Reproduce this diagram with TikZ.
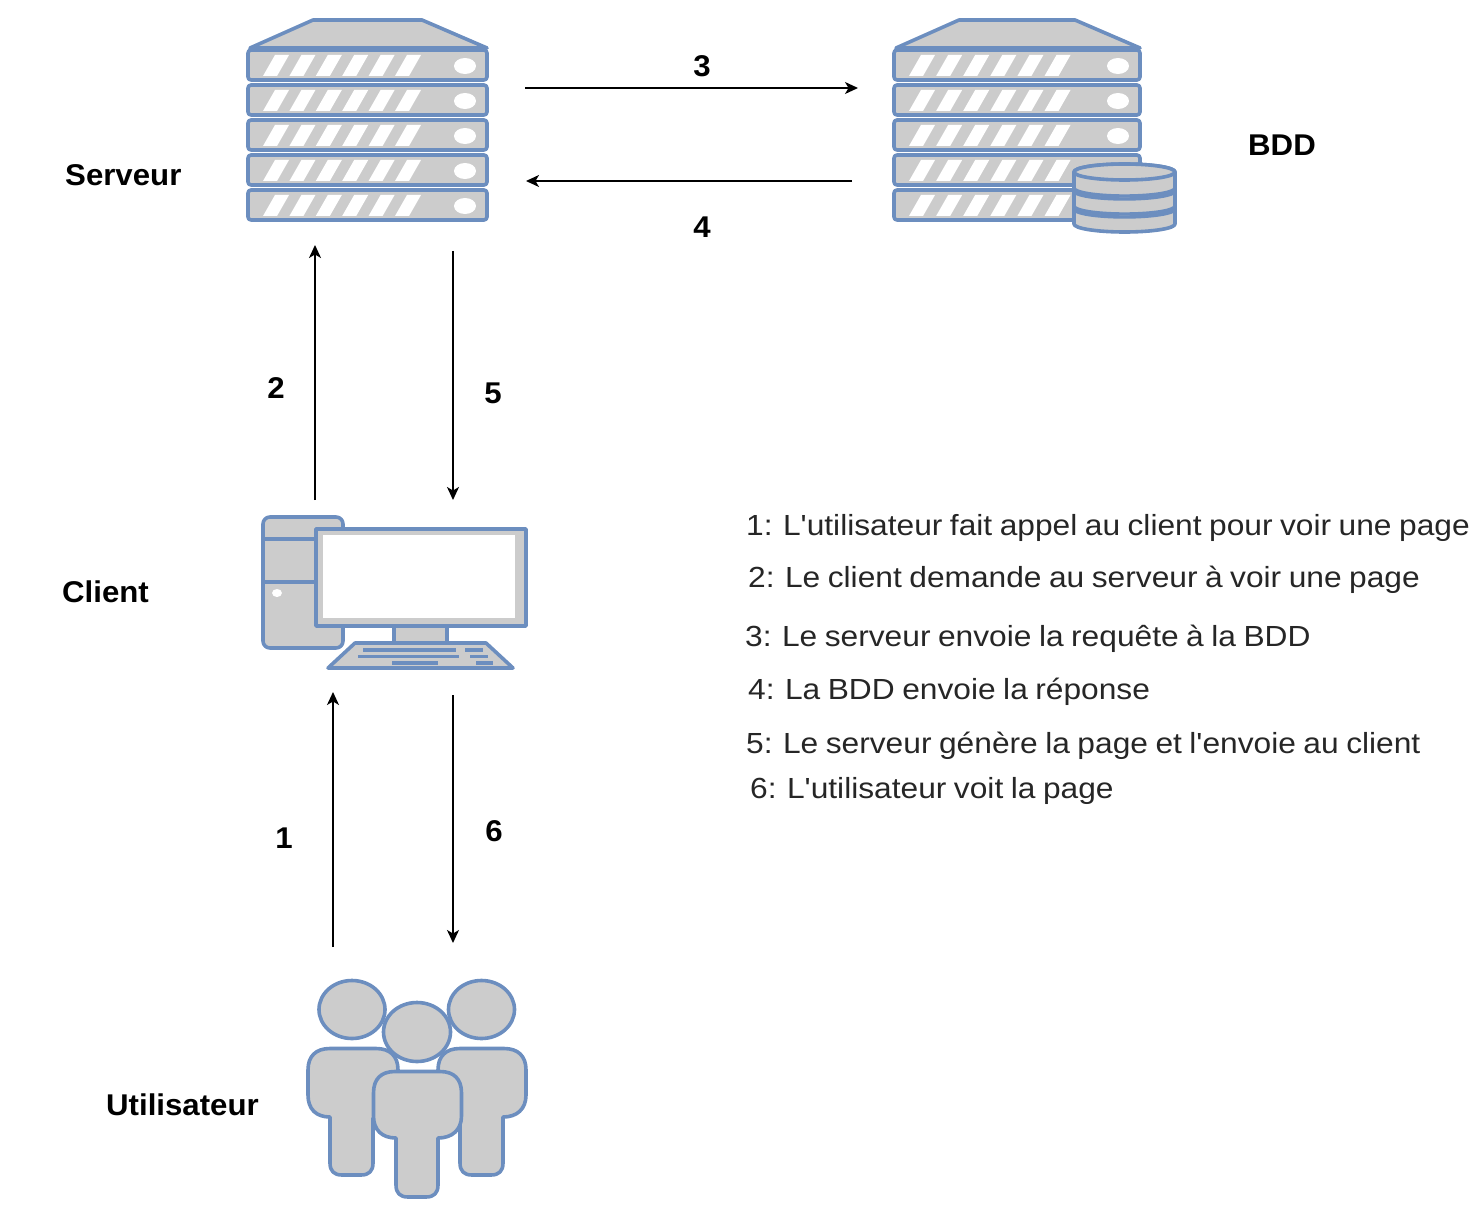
\documentclass[tikz,border=0pt]{standalone}
\usepackage{fontspec}
\setmainfont{Liberation Sans}
\newfontfamily\listfont[FakeStretch=1.09,WordSpace=0.85]{Liberation Sans}
\newfontfamily\labfont[FakeStretch=1.04]{Liberation Sans}
\usetikzlibrary{arrows.meta}
\definecolor{icoline}{HTML}{6C8EBF}
\definecolor{icofill}{HTML}{CCCCCC}
\tikzset{
  x=1pt,y=-1pt,
  ico/.style={draw=icoline,fill=icofill,line width=3.6pt,line join=round},
  bar/.style={draw=icoline,line width=3.4pt},
  flow/.style={draw=black,line width=1.4pt,-{Stealth[length=13pt,width=12pt,inset=3.5pt]}},
  lab/.style={font=\labfont\fontsize{30}{34}\selectfont\bfseries,inner sep=0pt,text=black},
  item/.style={font=\listfont\fontsize{29.1}{33}\selectfont,inner sep=0pt,anchor=west,text=black!85},
  pics/rack/.style 2 args={code={
    \draw[ico] (2,48) -- (65,20) -- ({#1-65},20) -- (#1,48) -- cycle;
    \foreach \t in {50,85,120,155,190}{
      \draw[ico,rounded corners=3pt] (0,\t) rectangle (#1,\t+30);
      \foreach \k in {0,...,5}{
        \fill[white] ({15+\k*#2},\t+26) -- ({29+\k*#2},\t+26) -- ({41+\k*#2},\t+5) -- ({27+\k*#2},\t+5) -- cycle;
      }
      \fill[white] ({#1-22},\t+16) ellipse [x radius=11,y radius=8];
    }
  }},
}
\begin{document}
\begin{tikzpicture}
\useasboundingbox (0,0) rectangle (1480,1206);

% server
\pic at (248,0) {rack={239}{26.4}};
% database server
\pic at (894,0) {rack={246}{27.1}};
% database cylinder
\draw[ico] (1074,172) -- (1074,224) arc [start angle=180,end angle=0,x radius=50.5,y radius=8] -- (1175,172) arc [start angle=0,end angle=-180,x radius=50.5,y radius=8] -- cycle;
\draw[ico] (1124.5,172) ellipse [x radius=50.5,y radius=8];
\draw[bar] (1074,188) arc [start angle=180,end angle=0,x radius=50.5,y radius=8];
\draw[bar] (1074,191) arc [start angle=180,end angle=0,x radius=50.5,y radius=8];
\draw[bar] (1074,206) arc [start angle=180,end angle=0,x radius=50.5,y radius=8];
\draw[bar] (1074,209) arc [start angle=180,end angle=0,x radius=50.5,y radius=8];

% client
\draw[ico,rounded corners=7pt] (263,517) rectangle (343,648);
\draw[bar] (263,539) -- (316,539);
\draw[bar] (263,582) -- (316,582);
\fill[white] (277,593) ellipse [x radius=5,y radius=4];
\draw[ico] (394,626) rectangle (447,643);
\draw[ico] (355,643) -- (486,643) -- (513,668) -- (328,668) -- cycle;
\draw[ico] (316,529) rectangle (526,626);
\fill[white] (323,535) rectangle (515,618);
\foreach \xa/\xb/\yy in {363/456/650,465/483/650,358/459/656.5,470/488/656.5,392/438/663,476/493/663}{
  \draw[bar] (\xa,\yy) -- (\xb,\yy);
}

% users
\draw[ico] (352,1009.5) ellipse [x radius=33,y radius=29];
\draw[ico] (481.5,1009.5) ellipse [x radius=33,y radius=29];
\draw[ico] (308,1070) .. controls (308,1056) and (316,1048.5) .. (330,1048.5) -- (376,1048.5) .. controls (390,1048.5) and (398,1056) .. (398,1070) -- (398,1118) -- (373,1118) -- (373,1163) .. controls (373,1171) and (369,1175) .. (361,1175) -- (342,1175) .. controls (334,1175) and (330,1171) .. (330,1163) -- (330,1117) .. controls (316,1117) and (308,1109) .. (308,1095) -- cycle;
\draw[ico] (526,1070) .. controls (526,1056) and (518,1048.5) .. (504,1048.5) -- (460,1048.5) .. controls (446,1048.5) and (438,1056) .. (438,1070) -- (438,1118) -- (460,1118) -- (460,1163) .. controls (460,1171) and (464,1175) .. (472,1175) -- (491,1175) .. controls (499,1175) and (503,1171) .. (503,1163) -- (503,1117) .. controls (517,1117) and (526,1109) .. (526,1095) -- cycle;
\draw[ico] (417,1032) ellipse [x radius=33.5,y radius=29.5];
\draw[ico] (373.5,1093) .. controls (373.5,1079) and (381,1071.5) .. (395,1071.5) -- (440,1071.5) .. controls (454,1071.5) and (461.5,1079) .. (461.5,1093) -- (461.5,1116) .. controls (461.5,1130) and (452,1138) .. (438,1138) -- (438,1185) .. controls (438,1193) and (434,1197) .. (426,1197) -- (408,1197) .. controls (400,1197) and (396,1193) .. (396,1185) -- (396,1138) .. controls (382,1138) and (373.5,1130) .. (373.5,1116) -- cycle;

% free ends of the connectors
\coordinate (a3s) at (525,88);  \coordinate (a3e) at (858,88);
\coordinate (a4s) at (852,181); \coordinate (a4e) at (526,181);
\coordinate (a2s) at (315,500); \coordinate (a2e) at (315,245);
\coordinate (a5s) at (453,251); \coordinate (a5e) at (453,500);
\coordinate (a1s) at (333,947); \coordinate (a1e) at (333,692);
\coordinate (a6s) at (453,695); \coordinate (a6e) at (453,943);
\draw[flow] (a3s) -- (a3e);
\draw[flow] (a4s) -- (a4e);
\draw[flow] (a2s) -- (a2e);
\draw[flow] (a5s) -- (a5e);
\draw[flow] (a1s) -- (a1e);
\draw[flow] (a6s) -- (a6e);

% labels
\node[lab,anchor=west] (lserveur) at (65,175) {Serveur};
\node[lab,anchor=west] (lclient) at (62,592) {Client};
\node[lab,anchor=west] (lutil) at (106,1105) {Utilisateur};
\node[lab,anchor=west] (lbdd) at (1248,145) {BDD};
\node[lab] (n3) at (702,66) {3};
\node[lab] (n4) at (702,227) {4};
\node[lab] (n2) at (276,388) {2};
\node[lab] (n5) at (493,393) {5};
\node[lab] (n1) at (284,838) {1};
\node[lab] (n6) at (494,831) {6};

% list
\node[item] (i1) at (746,528) {1: L'utilisateur fait appel au client pour voir une page};
\node[item] (i2) at (748,580) {2: Le client demande au serveur à voir une page};
\node[item] (i3) at (745,639) {3: Le serveur envoie la requête à la BDD};
\node[item] (i4) at (748,692) {4: La BDD envoie la réponse};
\node[item] (i5) at (746,746) {5: Le serveur génère la page et l'envoie au client};
\node[item] (i6) at (750,791) {6: L'utilisateur voit la page};
\end{tikzpicture}
\end{document}
